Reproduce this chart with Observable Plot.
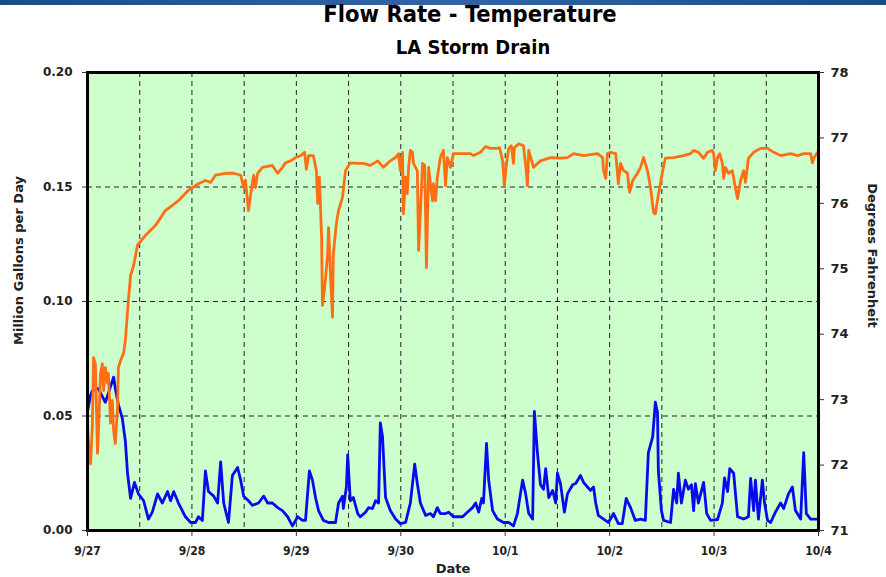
<!DOCTYPE html>
<html><head><meta charset="utf-8">
<script src="https://cdn.jsdelivr.net/npm/d3@7"></script>
<script src="https://cdn.jsdelivr.net/npm/@observablehq/plot@0.6"></script>
<style>
html,body{margin:0;padding:0;background:#fff;}
body{width:886px;height:577px;position:relative;overflow:hidden;font-family:"DejaVu Sans",Verdana,sans-serif;}
#band{position:absolute;left:0;top:0;width:886px;height:5px;background:linear-gradient(90deg,#1f4a88,#3563a6 50%,#1f4a88);}
#title{position:absolute;top:0px;left:0;width:940px;text-align:center;font:bold 23.5px "DejaVu Sans Condensed","DejaVu Sans",sans-serif;color:#000;line-height:28px;}
#subtitle{position:absolute;top:35px;left:0;width:946px;text-align:center;font:bold 20px "DejaVu Sans Condensed","DejaVu Sans",sans-serif;color:#000;line-height:24px;}
#chart{position:absolute;left:0;top:60px;}
</style></head>
<body>
<div id="band"></div>
<div id="title">Flow Rate - Temperature</div>
<div id="subtitle">LA Storm Drain</div>
<div id="chart"></div>
<script>
// Time in hours since 9/27 00:00
const dayLabels = ["9/27","9/28","9/29","9/30","10/1","10/2","10/3","10/4"];
const leftTicks = [0, 0.05, 0.10, 0.15, 0.20];
const rightTicks = [71, 72, 73, 74, 75, 76, 77, 78];

// Flow (Million Gallons per Day)
const flowHours = [0.0,0.7,1.1,2.5,4.1,4.8,6.0,6.4,7.1,8.0,8.7,9.2,9.9,10.8,11.7,12.9,14.0,14.9,16.1,17.2,18.4,19.1,19.8,20.9,22.5,23.7,24.8,25.5,26.4,27.1,27.8,29.0,29.9,30.6,31.3,32.4,33.3,34.5,35.2,35.9,37.0,37.9,39.3,40.5,41.4,42.5,43.7,44.8,46.0,47.1,48.3,49.4,50.1,51.0,51.7,52.4,53.1,54.2,55.4,57.0,57.7,58.6,58.8,59.5,59.8,60.4,61.1,62.1,62.7,63.9,64.6,65.5,66.2,66.9,67.3,67.8,68.5,69.6,70.8,71.9,73.1,74.2,75.2,75.8,76.5,77.7,78.8,79.5,80.4,81.1,82.3,83.0,84.1,86.2,87.3,88.5,89.2,89.9,90.6,91.0,91.7,92.2,93.1,94.2,95.6,96.8,97.9,98.8,99.5,100.0,100.7,101.4,102.3,102.7,103.4,104.1,104.8,105.3,106.0,106.9,107.6,108.0,108.7,109.6,110.3,111.5,112.2,113.3,114.0,114.9,115.6,116.3,116.8,117.4,118.6,119.7,120.9,122.0,122.9,123.8,124.8,125.9,127.1,128.2,128.9,129.9,130.5,131.0,131.2,131.9,132.4,134.0,134.7,135.4,135.8,136.5,137.4,138.1,138.8,139.3,139.7,140.4,141.6,142.3,143.2,144.8,145.9,146.4,147.1,147.6,148.5,149.4,150.8,151.9,152.4,153.1,153.5,154.2,155.1,155.6,156.3,157.0,158.1,159.3,160.0,161.1,162.0,162.7,163.9,164.6,165.2,166.2,167.8];
const flowMGD = [0.052,0.059,0.061,0.062,0.056,0.060,0.067,0.062,0.055,0.049,0.039,0.025,0.014,0.021,0.016,0.013,0.005,0.008,0.016,0.012,0.017,0.013,0.017,0.012,0.006,0.0035,0.0035,0.006,0.0044,0.026,0.017,0.015,0.012,0.030,0.012,0.0035,0.024,0.0275,0.022,0.015,0.013,0.011,0.012,0.015,0.012,0.012,0.010,0.0087,0.006,0.002,0.006,0.0044,0.0044,0.026,0.022,0.0144,0.0087,0.0044,0.0035,0.0035,0.012,0.015,0.0096,0.019,0.033,0.013,0.0144,0.0074,0.006,0.008,0.010,0.0096,0.013,0.012,0.047,0.041,0.0144,0.0087,0.005,0.003,0.0035,0.012,0.029,0.0205,0.012,0.0066,0.0074,0.006,0.010,0.0074,0.0074,0.008,0.006,0.006,0.008,0.010,0.012,0.008,0.014,0.012,0.038,0.022,0.0087,0.005,0.0035,0.0035,0.002,0.0074,0.016,0.022,0.016,0.0074,0.005,0.052,0.034,0.020,0.018,0.027,0.0144,0.0175,0.012,0.025,0.0205,0.008,0.016,0.020,0.0205,0.024,0.021,0.019,0.0175,0.019,0.012,0.0066,0.005,0.0035,0.0074,0.003,0.003,0.014,0.010,0.0044,0.005,0.0044,0.034,0.041,0.056,0.0515,0.026,0.0087,0.0044,0.0035,0.018,0.012,0.025,0.012,0.022,0.018,0.020,0.0087,0.0205,0.012,0.021,0.0074,0.0044,0.0048,0.012,0.023,0.017,0.027,0.025,0.006,0.005,0.006,0.0227,0.0087,0.022,0.005,0.022,0.012,0.0044,0.0035,0.008,0.012,0.0096,0.016,0.019,0.0087,0.005,0.034,0.0074,0.005,0.005];

// Temperature (Degrees Fahrenheit)
const tempHours = [0.0,0.2,0.7,1.1,1.4,1.8,2.3,2.5,3.0,3.4,3.7,4.1,4.6,4.8,5.3,5.7,6.0,6.4,6.9,7.1,7.6,8.3,8.7,9.4,9.9,10.6,11.5,13.3,15.6,17.9,20.9,23.2,25.5,27.1,28.3,29.4,31.7,33.6,35.2,35.9,36.3,37.0,37.9,38.2,38.6,39.1,40.2,42.5,43.7,44.8,45.5,46.7,47.8,49.0,49.9,50.3,50.8,51.9,52.6,52.9,53.3,53.8,54.0,54.5,55.2,55.4,55.8,56.3,56.5,57.2,57.7,58.6,59.3,60.4,62.1,63.4,65.0,66.7,68.0,69.6,70.8,71.5,71.9,72.4,72.6,73.1,73.5,73.8,74.2,74.7,74.9,75.8,76.1,76.5,77.0,77.5,77.9,78.4,78.8,79.3,79.5,80.0,80.4,81.1,81.8,82.3,82.7,83.4,84.1,85.7,88.0,88.7,90.3,91.5,92.6,94.2,94.7,95.4,95.8,96.3,96.8,97.4,97.9,98.1,99.1,100.2,100.9,101.1,101.4,102.5,104.1,106.4,108.7,110.3,111.7,114.0,117.2,118.4,118.6,119.1,119.5,120.2,121.4,122.0,122.5,123.2,124.1,124.6,125.3,126.4,127.1,127.8,128.7,129.4,130.1,130.5,131.2,132.2,132.8,134.7,137.0,138.6,139.3,140.4,141.6,142.5,143.6,143.9,144.3,144.8,145.3,145.9,146.2,146.6,147.3,148.2,148.9,149.4,150.1,150.8,151.2,151.9,153.1,154.7,156.3,157.7,159.3,161.6,163.2,164.6,166.2,166.6,166.9,167.8];
const tempF = [72.64,72.38,72.02,72.57,73.64,73.55,72.18,72.48,73.40,73.55,73.14,73.49,73.25,73.40,72.64,72.99,72.53,72.33,72.88,73.49,73.60,73.71,73.90,74.52,74.90,75.05,75.36,75.51,75.66,75.89,76.04,76.20,76.30,76.35,76.32,76.43,76.46,76.46,76.43,76.24,76.35,75.89,76.32,76.43,76.24,76.46,76.55,76.58,76.46,76.55,76.62,76.65,76.70,76.73,76.78,76.52,76.73,76.73,76.50,76.00,76.40,75.48,74.44,74.71,75.23,75.63,74.97,74.26,75.23,75.69,75.89,76.09,76.50,76.62,76.61,76.61,76.58,76.65,76.55,76.65,76.70,76.76,76.50,76.78,75.84,76.40,76.15,76.55,76.81,76.78,76.61,76.50,75.28,75.84,76.61,76.58,75.02,76.55,76.30,76.04,76.30,76.04,76.40,76.70,76.81,76.27,76.70,76.55,76.76,76.76,76.76,76.73,76.78,76.87,76.84,76.84,76.85,76.65,76.27,76.61,76.84,76.88,76.61,76.85,76.91,76.88,76.46,76.27,76.81,76.55,76.65,76.70,76.69,76.70,76.76,76.73,76.76,76.70,76.50,76.38,76.76,76.78,76.76,76.30,76.61,76.50,76.46,76.17,76.35,76.46,76.55,76.70,76.50,76.24,75.86,75.84,76.13,76.50,76.69,76.70,76.73,76.76,76.81,76.78,76.69,76.78,76.81,76.76,76.50,76.70,76.76,76.61,76.38,76.55,76.46,76.50,76.24,76.07,76.35,76.50,76.32,76.69,76.78,76.84,76.84,76.78,76.73,76.76,76.73,76.76,76.76,76.62,76.69,76.78];

const flow = flowHours.map((h, i) => ({h, v: flowMGD[i]}));
const temp = tempHours.map((h, i) => ({h, t: tempF[i]}));

// Map temperature scale (71–78 °F) onto the flow scale (0–0.20)
const tMin = rightTicks[0], tMax = rightTicks[rightTicks.length - 1];
const fMax = leftTicks[leftTicks.length - 1];
const toFlowUnits = t => (t - tMin) / (tMax - tMin) * fMax;

const dayTicks = dayLabels.map((_, i) => i * 24);
const halfDayGrid = d3.range(12, 168, 12);
const gridY = leftTicks.slice(1, -1);

const chart = Plot.plot({
  width: 886,
  height: 517,
  marginTop: 12,
  marginLeft: 87,
  marginRight: 68,
  marginBottom: 47,
  x: {domain: [0, 168]},
  y: {domain: [0, fMax]},
  style: {background: "transparent", fontFamily: "'DejaVu Sans', Verdana, sans-serif", fontWeight: "bold", color: "#222"},
  marks: [
    Plot.frame({fill: "#ccffcc", stroke: null}),
    Plot.ruleY(gridY, {stroke: "#222", strokeWidth: 1, strokeDasharray: "5,4"}),
    Plot.ruleX(halfDayGrid, {stroke: "#222", strokeWidth: 1, strokeDasharray: "5,4"}),
    Plot.line(flow, {x: "h", y: "v", stroke: "#0a0aee", strokeWidth: 2.8, strokeLinejoin: "round"}),
    Plot.line(temp, {x: "h", y: d => toFlowUnits(d.t), stroke: "#ff6e14", strokeWidth: 2.8, strokeLinejoin: "round"}),
    Plot.frame({stroke: "#000", strokeWidth: 3}),
    Plot.axisX(dayTicks, {tickFormat: d => dayLabels[Math.round(d / 24)], tickSize: 6, tickPadding: 10, label: null, fontSize: 12, fontFamily: "'DejaVu Sans Condensed', 'DejaVu Sans', sans-serif", stroke: "#333"}),
    Plot.axisY(leftTicks, {anchor: "left", tickFormat: d3.format(".2f"), tickSize: 5, tickPadding: 10, label: null, fontSize: 12, stroke: "#333"}),
    Plot.axisY(rightTicks.map(toFlowUnits), {anchor: "right", tickFormat: d => Math.round(tMin + d / fMax * (tMax - tMin)), tickSize: 5, tickPadding: 7, label: null, fontSize: 13, stroke: "#333"}),
    Plot.text(["Million Gallons per Day"], {frameAnchor: "left", textAnchor: "middle", dx: -69, dy: -41, rotate: -90, fontSize: 13, fontWeight: "bold", fill: "#222"}),
    Plot.text(["Degrees Fahrenheit"], {frameAnchor: "right", textAnchor: "middle", dx: 54, dy: -46, rotate: 90, fontSize: 13, fontWeight: "bold", fill: "#222"}),
    Plot.text(["Date"], {frameAnchor: "bottom", dy: 42, fontSize: 13, fontWeight: "bold", fill: "#222"})
  ]
});
document.getElementById("chart").appendChild(chart);
</script>
</body></html>
